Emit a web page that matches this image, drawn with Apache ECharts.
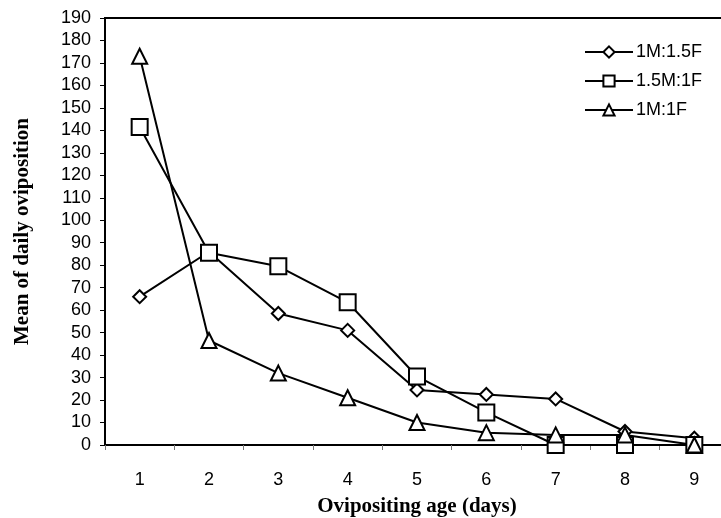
<!DOCTYPE html>
<html>
<head>
<meta charset="utf-8">
<script src="https://cdn.jsdelivr.net/npm/echarts@6/dist/echarts.min.js"></script>
<style>html,body{margin:0;padding:0;background:#fff}#chart{width:721px;height:518px}</style>
</head>
<body>
<div id="chart"></div>
<script>
var categories = ['1','2','3','4','5','6','7','8','9'];
var seriesNames = ['1M:1.5F','1.5M:1F','1M:1F'];
var s1M15F = [66, 86, 58.5, 51, 24.5, 22.5, 20.5, 6, 3];
var s15M1F = [141.5, 85.5, 79.5, 63.5, 30.5, 14.5, 0, 0, 0];
var s1M1F = [173, 46.5, 32, 21, 10, 5.5, 4.5, 4.5, 0];
var xTitle = 'Ovipositing age (days)';
var yTitle = 'Mean of daily oviposition';

var chart = echarts.init(document.getElementById('chart'));
function mk(name, data, sym, size) {
  return {
    name: name, type: 'line', data: data, symbol: sym, symbolSize: size,
    clip: false,
    lineStyle: {color: '#000', width: 2},
    itemStyle: {color: '#fff', borderColor: '#000', borderWidth: 2},
    emphasis: {disabled: true},
    animation: false
  };
}
chart.setOption({
  animation: false,
  grid: {left: 105, width: 624, top: 18, height: 427, show: true, borderColor: '#000', borderWidth: 2, backgroundColor: 'transparent', containLabel: false, outerBoundsMode: 'none'},
  legend: {
    orient: 'vertical', left: 579, top: 38, itemGap: 11, itemWidth: 48, itemHeight: 14,
    textStyle: {fontFamily: 'Liberation Sans', fontSize: 18, color: '#000', padding: [0,0,0,-2]},
    data: seriesNames
  },
  xAxis: {
    type: 'category', data: categories, boundaryGap: true,
    axisLine: {lineStyle: {color: '#000', width: 2}},
    axisTick: {show: true, length: 5, lineStyle: {color: '#777', width: 1}},
    axisLabel: {margin: 26, fontFamily: 'Liberation Sans', fontSize: 18, color: '#000'},
    name: xTitle, nameLocation: 'middle', nameGap: 51,
    nameTextStyle: {fontFamily: 'Liberation Serif', fontWeight: 'bold', fontSize: 21, color: '#000'}
  },
  yAxis: {
    type: 'value', min: 0, max: 190, interval: 10,
    splitLine: {show: false},
    axisLine: {show: true, lineStyle: {color: '#000', width: 2}},
    axisTick: {show: true, length: 5, lineStyle: {color: '#000', width: 1}},
    axisLabel: {margin: 14, fontFamily: 'Liberation Sans', fontSize: 18, color: '#000'},
    name: yTitle, nameLocation: 'middle', nameGap: 72, nameRotate: 90,
    nameTextStyle: {fontFamily: 'Liberation Serif', fontWeight: 'bold', fontSize: 21, color: '#000'}
  },
  series: [
    mk(seriesNames[0], s1M15F, 'diamond', 13),
    mk(seriesNames[1], s15M1F, 'rect', 16),
    mk(seriesNames[2], s1M1F, 'triangle', 15)
  ]
});
</script>
</body>
</html>
